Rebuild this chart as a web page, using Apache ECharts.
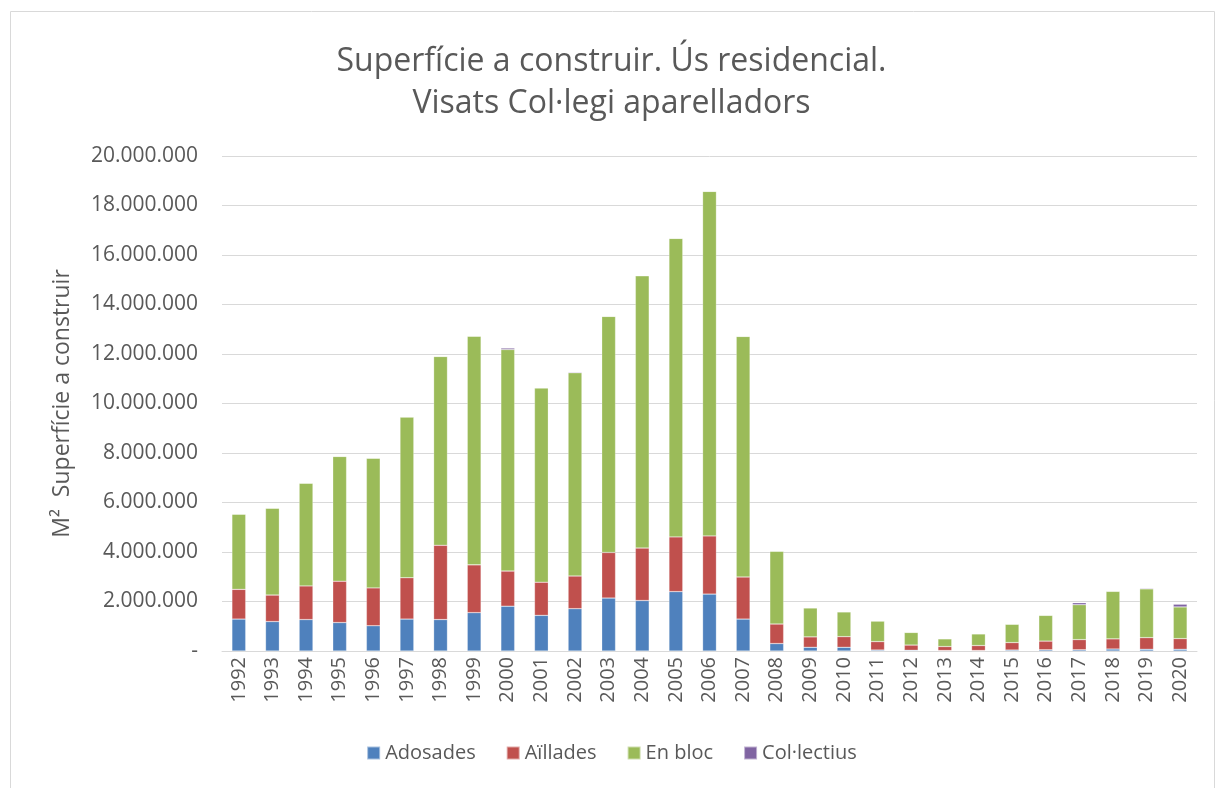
<!DOCTYPE html>
<html>
<head>
<meta charset="utf-8">
<script src="https://cdn.jsdelivr.net/npm/echarts@6/dist/echarts.min.js"></script>
<style>
  html, body { margin: 0; padding: 0; background: #fff; }
  #echarts { width: 1223px; height: 788px; }
</style>
</head>
<body>
<div id="echarts"></div>
<script>
// dades llegides del gràfic (m²)
let years = ['1992', '1993', '1994', '1995', '1996', '1997', '1998', '1999', '2000', '2001',
    '2002', '2003', '2004', '2005', '2006', '2007', '2008', '2009', '2010', '2011',
    '2012', '2013', '2014', '2015', '2016', '2017', '2018', '2019', '2020'];

let adosades = [1290000, 1190000, 1270000, 1150000, 1020000, 1290000, 1270000, 1550000, 1810000, 1440000,
    1710000, 2140000, 2040000, 2400000, 2300000, 1290000, 300000, 150000, 150000, 40000,
    30000, 20000, 20000, 40000, 50000, 50000, 80000, 70000, 70000];

let aillades = [1200000, 1070000, 1360000, 1670000, 1530000, 1670000, 3000000, 1930000, 1420000, 1340000,
    1320000, 1840000, 2120000, 2210000, 2350000, 1700000, 790000, 420000, 430000, 340000,
    210000, 160000, 200000, 300000, 350000, 410000, 410000, 470000, 430000];

let enBloc = [3040000, 3510000, 4150000, 5040000, 5240000, 6490000, 7630000, 9240000, 8950000, 7850000,
    8210000, 9540000, 11000000, 12060000, 13920000, 9720000, 2940000, 1170000, 1000000, 830000,
    510000, 310000, 470000, 740000, 1040000, 1410000, 1920000, 1970000, 1280000];

let collectius = [10000, 10000, 10000, 10000, 10000, 10000, 10000, 10000, 60000, 10000,
    30000, 10000, 10000, 10000, 10000, 10000, 10000, 10000, 10000, 10000,
    10000, 20000, 20000, 20000, 10000, 80000, 20000, 30000, 110000];

let seriesNames = ['Adosades', 'Aïllades', 'En bloc', 'Col·lectius'];
let colors = ['#4f81bd', '#c0504d', '#9bbb59', '#8064a2'];

let fmt = function (v) {
    if (v === 0) return '-';
    return String(v).replace(/\B(?=(\d{3})+(?!\d))/g, '.');
};

let createEchart = function (name, option) {
    let chart = echarts.init(document.getElementById(name));
    chart.setOption(option);
    return chart;
};

let barSeries = function (name, data, color) {
    return {
        name: name,
        type: 'bar',
        stack: 'total',
        barWidth: '41%',
        data: data,
        itemStyle: { color: color, borderColor: 'rgba(255,255,255,0.5)', borderWidth: 0.5 }
    };
};

let font = '"Open Sans", "Noto Sans", sans-serif';

let option = {
    animation: false,
    textStyle: { fontFamily: font },
    graphic: [{
        type: 'rect',
        shape: { x: 10.5, y: 11.5, width: 1204, height: 800 },
        style: { fill: 'none', stroke: '#d9d9d9', lineWidth: 1 }
    }],
    title: {
        text: 'Superfície a construir. Ús residencial.\nVisats Col·legi aparelladors',
        left: 'center',
        top: 36,
        textStyle: { fontFamily: font, fontSize: 32, fontWeight: 'normal', color: '#595959', lineHeight: 42 }
    },
    legend: {
        bottom: 20,
        left: 'center',
        itemWidth: 13,
        itemHeight: 13,
        itemGap: 30,
        icon: 'rect',
        textStyle: { fontFamily: font, fontSize: 20, color: '#595959' },
        data: seriesNames
    },
    grid: { left: 222, right: 26, top: 156, bottom: 137 },
    xAxis: {
        type: 'category',
        data: years,
        axisTick: { show: false },
        axisLine: { lineStyle: { color: '#d9d9d9', width: 1 } },
        axisLabel: { rotate: 90, interval: 0, fontSize: 20, color: '#595959', margin: 6 }
    },
    yAxis: {
        type: 'value',
        min: 0,
        max: 20000000,
        interval: 2000000,
        name: 'M²  Superfície a construir',
        nameLocation: 'middle',
        nameGap: 148,
        nameTextStyle: { fontSize: 23, color: '#595959' },
        axisLine: { show: false },
        axisTick: { show: false },
        splitLine: { lineStyle: { color: '#d9d9d9', width: 1 } },
        axisLabel: { fontSize: 21, color: '#595959', margin: 24, formatter: fmt }
    },
    series: [
        barSeries(seriesNames[0], adosades, colors[0]),
        barSeries(seriesNames[1], aillades, colors[1]),
        barSeries(seriesNames[2], enBloc, colors[2]),
        barSeries(seriesNames[3], collectius, colors[3])
    ]
};

createEchart('echarts', option);
</script>
</body>
</html>
